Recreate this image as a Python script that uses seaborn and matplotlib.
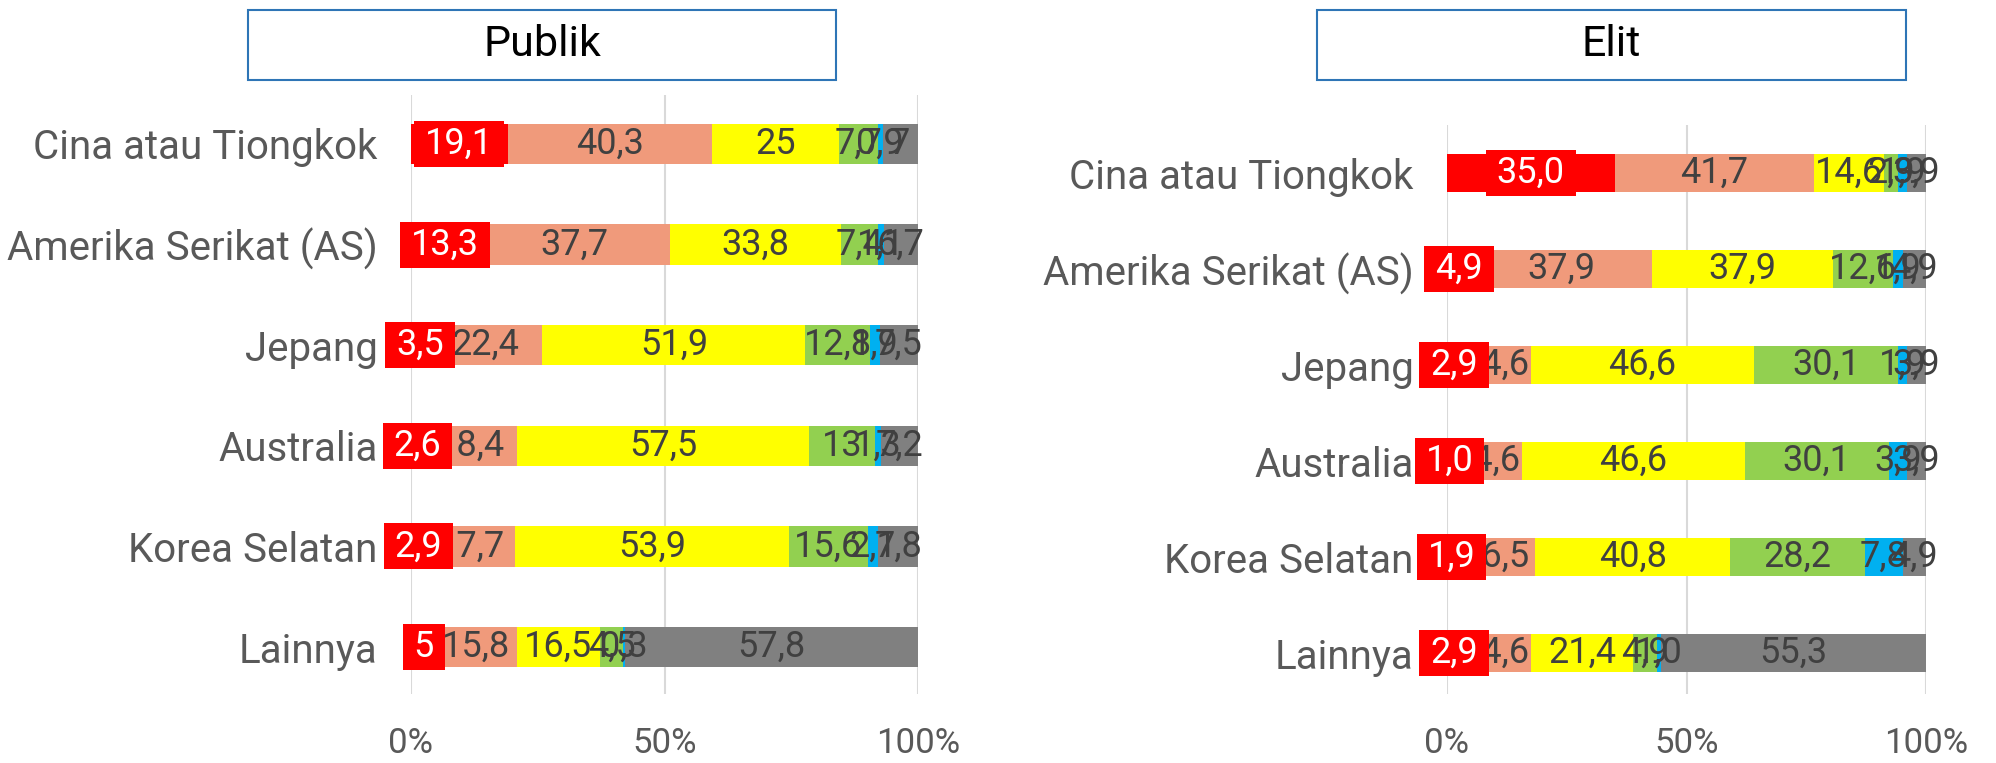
import numpy as np
import pandas as pd
import seaborn as sns
import matplotlib.pyplot as plt
from matplotlib.patches import Rectangle
from matplotlib.transforms import IdentityTransform

# Categories (top to bottom)
categories = ["Cina atau Tiongkok", "Amerika Serikat (AS)", "Jepang",
              "Australia", "Korea Selatan", "Lainnya"]

# Publik: six response segments, left to right
publik_red = [19.1, 13.3, 3.5, 2.6, 2.9, 5]
publik_salmon = [40.3, 37.7, 22.4, 18.4, 17.7, 15.8]
publik_yellow = [25, 33.8, 51.9, 57.5, 53.9, 16.5]
publik_green = [7.7, 7.4, 12.8, 13, 15.6, 4.5]
publik_blue = [0.9, 1.1, 1.9, 1.3, 2.1, 0.3]
publik_gray = [7, 6.7, 7.5, 7.2, 7.8, 57.8]

# Elit
elit_red = [35.0, 4.9, 2.9, 1.0, 1.9, 2.9]
elit_salmon = [41.7, 37.9, 14.6, 14.6, 16.5, 14.6]
elit_yellow = [14.6, 37.9, 46.6, 46.6, 40.8, 21.4]
elit_green = [2.9, 12.6, 30.1, 30.1, 28.2, 4.9]
elit_blue = [1.9, 1.9, 1.9, 3.9, 7.8, 1.0]
elit_gray = [3.9, 4.9, 3.9, 3.9, 4.9, 55.3]

x_ticks = [0, 50, 100]
x_ticklabels = ["0%", "50%", "100%"]

colors = ["#FF0000", "#F09A7B", "#FFFF00", "#92D050", "#00B0F0", "#808080"]
label_color = "#404040"
axis_text = "#595959"

sns.set_style("white")
plt.rcParams['font.family'] = ['Roboto', 'DejaVu Sans']


def fmt_publik(v):
    return ("%g" % v).replace(".", ",")


def fmt_elit(v):
    return ("%.1f" % v).replace(".", ",")


red_labels = []


def draw_panel(ax, series, fmt):
    df = pd.DataFrame(np.array(series).T, index=categories)
    total = df.sum(axis=1)
    pct = df.div(total, axis=0) * 100
    cum = pct.cumsum(axis=1)
    # draw from the full bar down to the first segment so they overlap
    for j in reversed(range(df.shape[1])):
        sns.barplot(x=cum[j].values, y=categories, color=colors[j],
                    saturation=1, width=0.4, orient="h", ax=ax,
                    edgecolor="none", linewidth=0, zorder=2)
    for i in range(len(categories)):
        for j in range(df.shape[1]):
            center = cum.iloc[i, j] - pct.iloc[i, j] / 2
            txt = fmt(df.iloc[i, j])
            if j == 0:
                t = ax.text(center, i, txt, ha="center", va="center",
                            fontsize=26, color="white", zorder=6)
                red_labels.append((ax, t, i))
            else:
                ax.text(center, i, txt, ha="center", va="center",
                        fontsize=26, color=label_color, zorder=4)
    ax.set_xlim(0, 100)
    ax.set_xticks(x_ticks)
    ax.set_xticklabels(x_ticklabels, fontsize=25, color=axis_text)
    ax.tick_params(axis="y", labelsize=29, labelcolor=axis_text, pad=24, length=0)
    ax.tick_params(axis="x", pad=24, length=0)
    ax.set_xlabel("")
    ax.set_ylabel("")
    ax.xaxis.grid(True, color="#D9D9D9", linewidth=1.5, zorder=0)
    ax.set_axisbelow(True)
    sns.despine(ax=ax, left=True, bottom=True)


fig = plt.figure(figsize=(19.96, 7.63), dpi=100)
ax1 = fig.add_axes([411 / 1996, 1 - 694 / 763, 507 / 1996, (694 - 95) / 763])
ax2 = fig.add_axes([1447 / 1996, 1 - 694 / 763, 479 / 1996, (694 - 125) / 763])

draw_panel(ax1, [publik_red, publik_salmon, publik_yellow, publik_green,
                 publik_blue, publik_gray], fmt_publik)
ax1.set_ylim(5.467, -0.487)
draw_panel(ax2, [elit_red, elit_salmon, elit_yellow, elit_green,
                 elit_blue, elit_gray], fmt_elit)
ax2.set_ylim(5.427, -0.5)

# title boxes
for x0, x1, title in [(248, 836, "Publik"), (1317, 1906, "Elit")]:
    fig.patches.append(Rectangle((x0 / 1996, 1 - 80 / 763), (x1 - x0) / 1996,
                                 70 / 763, transform=fig.transFigure,
                                 facecolor="white", edgecolor="#2E75B6",
                                 linewidth=1.5))
    fig.text((x0 + x1) / 2 / 1996, 1 - 45 / 763, title, ha="center",
             va="center", fontsize=31, color="black")

# red label boxes sized to the label text
fig.canvas.draw()
for ax, t, i in red_labels:
    bb = t.get_window_extent()
    cx = (bb.x0 + bb.x1) / 2
    cy = ax.transData.transform((0, i))[1]
    w = bb.width + 22
    h = 46
    ax.add_artist(Rectangle((cx - w / 2, cy - h / 2), w, h,
                            transform=IdentityTransform(), facecolor="#FF0000",
                            edgecolor="none", zorder=5, clip_on=False))

fig.savefig("out.png", dpi=100)
